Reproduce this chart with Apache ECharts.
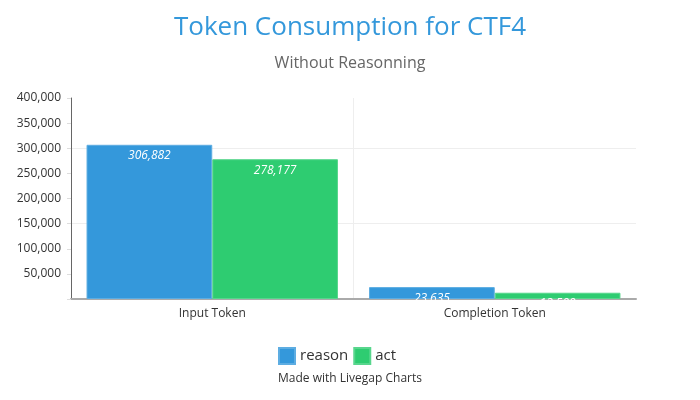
<!DOCTYPE html>
<html><head><meta charset="utf-8">
<script src="https://cdn.jsdelivr.net/npm/echarts@6/dist/echarts.min.js"></script>
<style>html,body{margin:0;padding:0;background:#fff}#c{width:700px;height:400px}</style>
</head><body><div id="c"></div>
<script>
const categories = ['Input Token', 'Completion Token'];
const reasonValues = [306882, 23635];
const actValues = [278177, 12500];
const seriesNames = ['reason', 'act'];

const chart = echarts.init(document.getElementById('c'));
const fmt = v => v.toLocaleString('en-US');
const labelCfg = {
  show: true, position: 'insideTop', distance: 5,
  color: '#fff', fontStyle: 'italic', fontSize: 12, fontFamily: 'Open Sans',
  formatter: p => fmt(p.value)
};
chart.setOption({
  animation: false,
  textStyle: { fontFamily: 'Open Sans' },
  title: [
    { text: 'Token Consumption for CTF4', left: 'center', top: 10,
      textStyle: { color: '#3498db', fontSize: 26, fontWeight: 'normal', fontFamily: 'Open Sans' } },
    { text: 'Without Reasonning', left: 'center', top: 50,
      textStyle: { color: '#666', fontSize: 16, fontWeight: 'normal', fontFamily: 'Open Sans' } }
  ],
  legend: {
    top: 342, left: 273, itemWidth: 16, itemHeight: 16, itemGap: 5,
    icon: 'rect',
    textStyle: { color: '#333', fontSize: 15, fontFamily: 'Open Sans' },
    data: seriesNames
  },
  graphic: [{
    type: 'text', left: 'center', top: 373,
    style: { text: 'Made with Livegap Charts', fill: '#333', fontSize: 12, fontFamily: 'Open Sans' }
  }],
  grid: { left: 71, right: 64, top: 98, bottom: 101 },
  xAxis: {
    type: 'category', data: categories,
    axisLine: { lineStyle: { color: '#aaa', width: 2 } },
    axisTick: { show: false },
    axisLabel: { color: '#333', fontSize: 12, margin: 9 },
    splitLine: { show: true, lineStyle: { color: ['rgba(0,0,0,0)', '#eee', 'rgba(0,0,0,0)'] } }
  },
  yAxis: {
    type: 'value', min: 0, max: 400000, interval: 50000,
    axisLine: { show: true, lineStyle: { color: '#666' } },
    axisTick: { show: true, length: 4, lineStyle: { color: '#ddd' } },
    axisLabel: { color: '#333', fontSize: 12, margin: 10,
      formatter: v => v === 0 ? '' : fmt(v) },
    splitLine: { show: true, lineStyle: { color: ['#eee', 'rgba(0,0,0,0)', 'rgba(0,0,0,0)'] } }
  },
  series: [
    { name: seriesNames[0], type: 'bar', data: reasonValues, barGap: '0%', barCategoryGap: '11%',
      itemStyle: { color: '#3498db', borderColor: '#5dade2', borderWidth: 1 }, label: labelCfg },
    { name: seriesNames[1], type: 'bar', data: actValues,
      itemStyle: { color: '#2ecc71', borderColor: '#58d68d', borderWidth: 1 }, label: labelCfg }
  ]
});
</script></body></html>
